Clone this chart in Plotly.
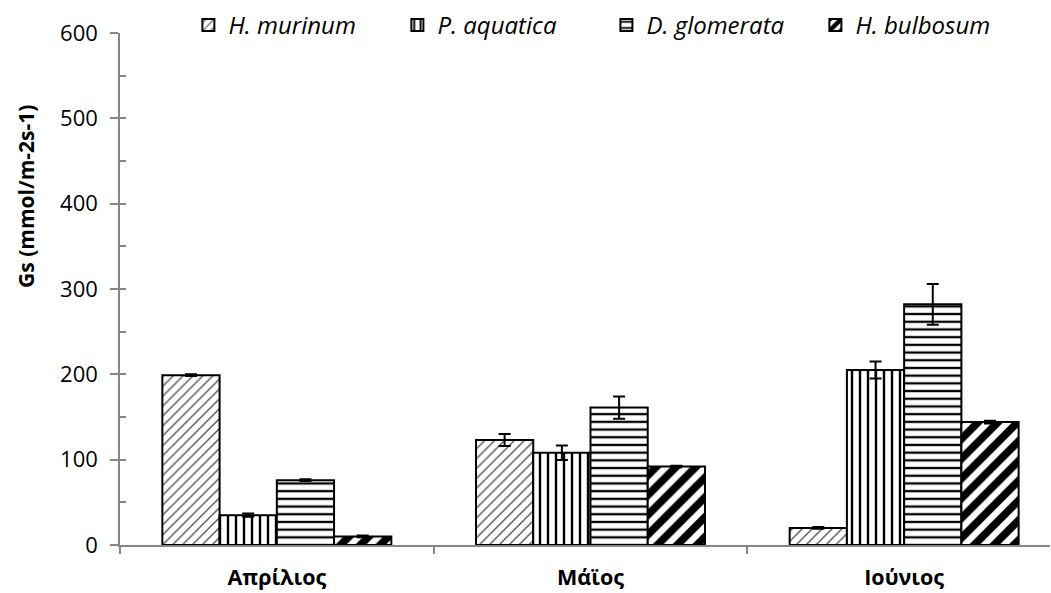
import plotly.graph_objects as go

# Stomatal conductance per species and month
months = ["Απρίλιος", "Μάϊος", "Ιούνιος"]
species = ["H. murinum", "P. aquatica", "D. glomerata", "H. bulbosum"]

h_murinum = [199, 123, 20]
p_aquatica = [35, 108, 205]
d_glomerata = [76, 161, 282]
h_bulbosum = [10, 92, 144]

h_murinum_err = [1, 7, 1]
p_aquatica_err = [2, 8.5, 10]
d_glomerata_err = [1, 13, 24]
h_bulbosum_err = [1, 1, 1.5]

y_ticks = [0, 100, 200, 300, 400, 500, 600]

values = [h_murinum, p_aquatica, d_glomerata, h_bulbosum]
errors = [h_murinum_err, p_aquatica_err, d_glomerata_err, h_bulbosum_err]
patterns = [
    dict(shape="/", size=7, solidity=0.2, fgcolor="#555555", bgcolor="white", fgopacity=1),
    dict(shape="|", size=8, solidity=0.3, fgcolor="black", bgcolor="white", fgopacity=1),
    dict(shape="-", size=7.7, solidity=0.3, fgcolor="black", bgcolor="white", fgopacity=1),
    dict(shape="/", size=14, solidity=0.55, fgcolor="black", bgcolor="white", fgopacity=1),
]

FONT = "Open Sans"

fig = go.Figure()
for name, vals, errs, pat in zip(species, values, errors, patterns):
    fig.add_trace(go.Bar(
        x=months, y=vals, name=f"<i>{name}</i>",
        marker=dict(color="white", line=dict(color="black", width=2), pattern=pat),
        error_y=dict(type="data", array=errs, visible=True, color="black",
                     thickness=2, width=6),
    ))

# invisible helper trace on a twin axis to draw the inner tick marks
fig.add_trace(go.Scatter(x=[months[0]], y=[0], yaxis="y2", mode="markers",
                         marker=dict(opacity=0), showlegend=False, hoverinfo="skip"))

fig.update_layout(
    width=1051, height=593,
    margin=dict(l=120, r=1, t=33, b=48),
    paper_bgcolor="white", plot_bgcolor="white",
    barmode="group", bargap=0.27, bargroupgap=0,
    font=dict(family=FONT, color="black"),
    showlegend=True,
    legend=dict(orientation="h", x=0.523, xanchor="center", y=1.015, yanchor="middle",
                font=dict(family=FONT, size=24), bgcolor="rgba(0,0,0,0)",
                itemwidth=30, entrywidth=164, entrywidthmode="pixels"),
    xaxis=dict(
        range=[-0.5, 2.465], showline=True, linecolor="#868686", linewidth=1.5,
        ticks="outside", tickson="boundaries", ticklen=7, tickcolor="#868686",
        tickwidth=1.5, showgrid=False, zeroline=False,
        tickfont=dict(family=FONT, size=21.5, weight="bold"),
        ticklabelstandoff=12,
    ),
    yaxis=dict(
        range=[0, 600], tickvals=y_ticks, showline=True, linecolor="#868686",
        linewidth=1.5, ticks="outside", ticklen=8, tickcolor="#868686", tickwidth=1.5,
        showgrid=False, zeroline=False, tickfont=dict(family=FONT, size=22),
        ticklabelstandoff=8,
    ),
    yaxis2=dict(
        range=[0, 600], overlaying="y", side="left", dtick=50, tick0=0,
        ticks="inside", ticklen=6, tickcolor="#868686", tickwidth=1.5,
        showticklabels=False, showline=False, showgrid=False, zeroline=False,
    ),
    annotations=[dict(
        text="<b>Gs (mmol/m-2s-1)</b>", xref="paper", yref="paper",
        x=-0.101, y=0.68, xanchor="center", yanchor="middle", textangle=-90,
        showarrow=False, font=dict(family=FONT, size=21),
    )],
)

fig.write_html("out.html")
